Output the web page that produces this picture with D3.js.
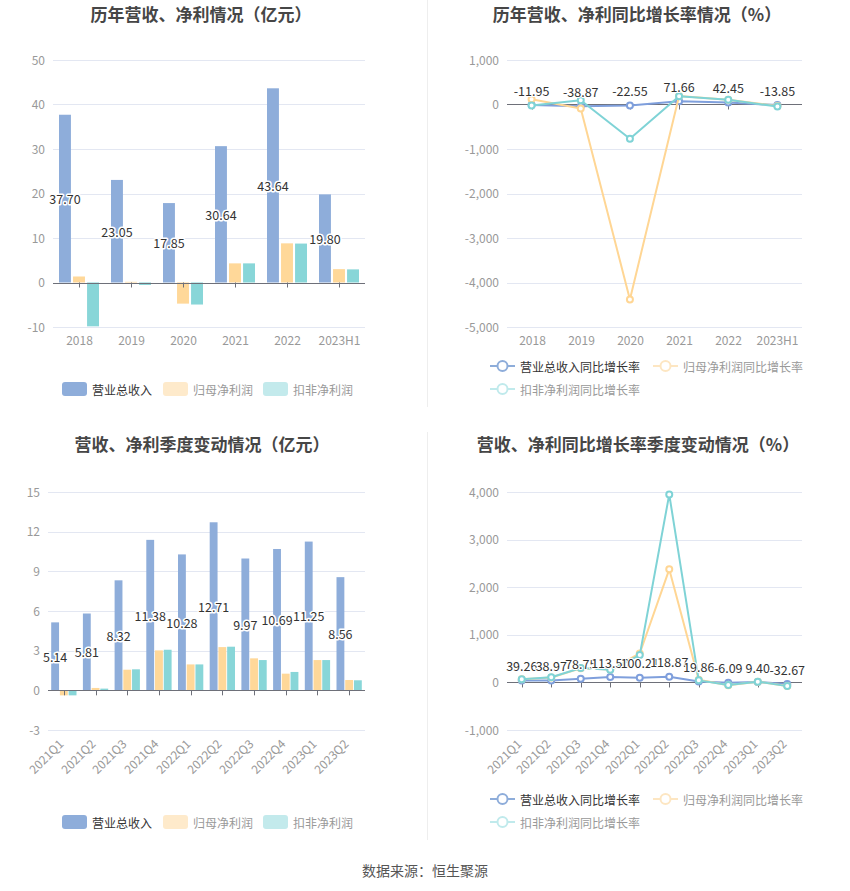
<!DOCTYPE html>
<html>
<head>
<meta charset="utf-8">
<script src="https://cdn.jsdelivr.net/npm/d3@7"></script>
<style>
html,body{margin:0;padding:0;background:#fff;}
svg{display:block;font-family:"Noto Sans CJK SC","Noto Sans",sans-serif;}
</style>
</head>
<body>
<svg id="c" width="850" height="891"></svg>
<script>
// ---------- data ----------
const years = ["2018","2019","2020","2021","2022","2023H1"];
const revenue = [37.70, 23.05, 17.85, 30.64, 43.64, 19.80];
const netProfit = [1.35, 0.15, -4.75, 4.3, 8.8, 3.0];
const deductedProfit = [-9.85, -0.55, -4.95, 4.3, 8.75, 2.95];

const revenueYoY = [-11.95, -38.87, -22.55, 71.66, 42.45, -13.85];
const netProfitYoY = [120, -90, -4380, 191, 105, -35];
const deductedYoY = [-20, 95, -770, 188, 108, -45];

const quarters = ["2021Q1","2021Q2","2021Q3","2021Q4","2022Q1","2022Q2","2022Q3","2022Q4","2023Q1","2023Q2"];
const revenueQ = [5.14, 5.81, 8.32, 11.38, 10.28, 12.71, 9.97, 10.69, 11.25, 8.56];
const netProfitQ = [-0.38, 0.18, 1.56, 3.02, 1.96, 3.27, 2.42, 1.26, 2.29, 0.78];
const deductedQ = [-0.38, 0.13, 1.59, 3.07, 1.96, 3.30, 2.29, 1.39, 2.29, 0.76];

const revenueQYoY = [39.26, 38.97, 78.75, 113.50, 100.21, 118.87, 19.86, -6.09, 9.40, -32.67];
const netProfitQYoY = [65, 105, 300, 270, 610, 2380, 55, -58, 17, -76];
const deductedQYoY = [70, 110, 305, 265, 575, 3955, 44, -55, 17, -77];

const ticksTL = [-10, 0, 10, 20, 30, 40, 50];
const ticksTR = [-5000, -4000, -3000, -2000, -1000, 0, 1000];
const ticksBL = [-3, 0, 3, 6, 9, 12, 15];
const ticksBR = [-1000, 0, 1000, 2000, 3000, 4000];

const barNames = ["营业总收入","归母净利润","扣非净利润"];
const lineNames = ["营业总收入同比增长率","归母净利润同比增长率","扣非净利润同比增长率"];
const titles = ["历年营收、净利情况（亿元）","历年营收、净利同比增长率情况（%）","营收、净利季度变动情况（亿元）","营收、净利同比增长率季度变动情况（%）"];
const sourceText = "数据来源：恒生聚源";

// ---------- style ----------
const barColors = ["#8eadda", "#ffd899", "#88d6d8"];
const lineColors = ["#7f9fdc", "#ffd694", "#7fd3d6"];
const legendBarColors = ["#8eadda", "#feeacb", "#c3eaec"];
const legendLineColors = ["#8eadda", "#fde6c2", "#c0eaec"];
const legendTextColors = ["#333", "#999", "#999"];
const gridColor = "#e3e7f2";
const axisColor = "#6e7079";
const labelColor = "#999";

const loc = d3.formatLocale({decimal: ".", thousands: ",", grouping: [3], currency: ["", ""], minus: "-"});
const fmtComma = loc.format(",");
const fmt2 = loc.format(".2f");

const svg = d3.select("#c");

// dividers
svg.append("line").attr("x1", 427.5).attr("x2", 427.5).attr("y1", 0).attr("y2", 407).attr("stroke", "#eeeeee");
svg.append("line").attr("x1", 427.5).attr("x2", 427.5).attr("y1", 432).attr("y2", 840).attr("stroke", "#eeeeee");

function title(txt, cx, cy) {
  svg.append("text").attr("x", cx).attr("y", cy).attr("text-anchor", "middle")
    .attr("dominant-baseline", "central").attr("font-size", 17).attr("font-weight", "bold")
    .attr("fill", "#464646").text(txt);
}
title(titles[0], 201, 13);
title(titles[1], 637, 13);
title(titles[2], 202, 443);
title(titles[3], 638, 443);

function yAxis(g, y, ticks, x0, x1, fmt) {
  ticks.forEach(t => {
    if (t !== 0) {
      g.append("line").attr("x1", x0).attr("x2", x1).attr("y1", Math.round(y(t)) + 0.5).attr("y2", Math.round(y(t)) + 0.5)
        .attr("stroke", gridColor);
    }
    g.append("text").attr("x", x0 - 8).attr("y", y(t) - 1).attr("text-anchor", "end")
      .attr("dominant-baseline", "central").attr("font-size", 12).attr("fill", labelColor).text(fmt(t));
  });
}

function xAxis(g, x, cats, y0, x0, x1, labelY, rotate) {
  g.append("line").attr("x1", x0).attr("x2", x1).attr("y1", Math.round(y0) + 0.5).attr("y2", Math.round(y0) + 0.5)
    .attr("stroke", axisColor);
  cats.forEach(c => {
    const cx = Math.round(x(c) + x.bandwidth() / 2) + 0.5;
    g.append("line").attr("x1", cx).attr("x2", cx).attr("y1", y0).attr("y2", y0 + 5).attr("stroke", axisColor);
    if (rotate) {
      g.append("text").attr("transform", `translate(${cx - 4},${labelY}) rotate(-45)`)
        .attr("text-anchor", "end").attr("dominant-baseline", "central")
        .attr("font-size", 12).attr("fill", labelColor).text(c);
    } else {
      g.append("text").attr("x", cx).attr("y", labelY).attr("text-anchor", "middle")
        .attr("dominant-baseline", "central").attr("font-size", 12).attr("fill", labelColor).text(c);
    }
  });
}

function barChart(cfg) {
  const g = svg.append("g");
  const x = d3.scaleBand().domain(cfg.cats).range([cfg.x0, cfg.x1]);
  const y = d3.scaleLinear().domain(cfg.domain).range([cfg.yb, cfg.yt]);
  const sub = d3.scaleBand().domain([0, 1, 2]).range(cfg.subRange).paddingInner(cfg.subPad);
  yAxis(g, y, cfg.ticks, cfg.x0, cfg.x1, d => String(d));
  const series = [cfg.s0, cfg.s1, cfg.s2];
  series.forEach((vals, si) => {
    g.selectAll(null).data(vals).enter().append("rect")
      .attr("x", (d, i) => x(cfg.cats[i]) + sub(si))
      .attr("width", sub.bandwidth())
      .attr("y", d => Math.min(y(d), y(0)))
      .attr("height", d => Math.abs(y(d) - y(0)))
      .attr("fill", barColors[si]);
  });
  xAxis(g, x, cfg.cats, y(0), cfg.x0, cfg.x1, cfg.labelY, cfg.rotate);
  g.selectAll(null).data(cfg.s0).enter().append("text")
    .attr("x", (d, i) => x(cfg.cats[i]) + sub(0) + sub.bandwidth() / 2)
    .attr("y", d => (y(d) + y(0)) / 2)
    .attr("text-anchor", "middle").attr("dominant-baseline", "central")
    .attr("font-size", 12.5).attr("fill", "#333")
    .attr("stroke", "#fff").attr("stroke-width", 3).attr("paint-order", "stroke")
    .attr("stroke-linejoin", "round")
    .text(d => fmt2(d));
}

function lineChart(cfg) {
  const g = svg.append("g");
  const x = d3.scaleBand().domain(cfg.cats).range([cfg.x0, cfg.x1]);
  const y = d3.scaleLinear().domain(cfg.domain).range([cfg.yb, cfg.yt]);
  yAxis(g, y, cfg.ticks, cfg.x0, cfg.x1, fmtComma);
  xAxis(g, x, cfg.cats, y(0), cfg.x0, cfg.x1, cfg.labelY, cfg.rotate);
  const cx = c => x(c) + x.bandwidth() / 2;
  const series = [cfg.s0, cfg.s1, cfg.s2];
  [0, 1, 2].forEach(si => {
    const vals = series[si];
    const line = d3.line().x((d, i) => cx(cfg.cats[i])).y(d => y(d));
    g.append("path").datum(vals).attr("d", line).attr("fill", "none")
      .attr("stroke", lineColors[si]).attr("stroke-width", 2).attr("stroke-linejoin", "round");
    g.selectAll(null).data(vals).enter().append("circle")
      .attr("cx", (d, i) => cx(cfg.cats[i])).attr("cy", d => y(d)).attr("r", 3)
      .attr("fill", "#fff").attr("stroke", lineColors[si]).attr("stroke-width", 2);
  });
  g.selectAll(null).data(cfg.s0).enter().append("text")
    .attr("x", (d, i) => cx(cfg.cats[i]))
    .attr("y", d => y(d) - 15)
    .attr("text-anchor", "middle").attr("dominant-baseline", "central")
    .attr("font-size", 12.5).attr("fill", "#333")
    .attr("stroke", "#fff").attr("stroke-width", 2).attr("paint-order", "stroke")
    .text(d => fmt2(d));
}

function barLegend(y) {
  const xs = [62, 163, 263];
  barNames.forEach((n, i) => {
    svg.append("rect").attr("x", xs[i]).attr("y", y - 7).attr("width", 25).attr("height", 14).attr("rx", 3)
      .attr("fill", legendBarColors[i]);
    svg.append("text").attr("x", xs[i] + 30).attr("y", y).attr("dominant-baseline", "central")
      .attr("font-size", 12).attr("fill", legendTextColors[i]).text(n);
  });
}
function lineLegend(y1, y2) {
  const pos = [[490, y1], [653, y1], [490, y2]];
  lineNames.forEach((n, i) => {
    const [lx, ly] = pos[i];
    svg.append("line").attr("x1", lx).attr("x2", lx + 25).attr("y1", ly).attr("y2", ly)
      .attr("stroke", legendLineColors[i]).attr("stroke-width", 2);
    svg.append("circle").attr("cx", lx + 12.5).attr("cy", ly).attr("r", 5)
      .attr("fill", "#fff").attr("stroke", legendLineColors[i]).attr("stroke-width", 2);
    svg.append("text").attr("x", lx + 30).attr("y", ly).attr("dominant-baseline", "central")
      .attr("font-size", 12).attr("fill", legendTextColors[i]).text(n);
  });
}

barChart({cats: years, s0: revenue, s1: netProfit, s2: deductedProfit,
  x0: 53, x1: 365, yt: 60, yb: 327, domain: [-10, 50], ticks: ticksTL,
  subRange: [6, 46], subPad: 0.15, labelY: 339, rotate: false});

lineChart({cats: years, s0: revenueYoY, s1: netProfitYoY, s2: deductedYoY,
  x0: 507, x1: 802, yt: 60, yb: 327, domain: [-5000, 1000], ticks: ticksTR,
  labelY: 339, rotate: false});

barChart({cats: quarters, s0: revenueQ, s1: netProfitQ, s2: deductedQ,
  x0: 48, x1: 365, yt: 492, yb: 730, domain: [-3, 15], ticks: ticksBL,
  subRange: [3.2, 28.5], subPad: 0.1, labelY: 741, rotate: true});

lineChart({cats: quarters, s0: revenueQYoY, s1: netProfitQYoY, s2: deductedQYoY,
  x0: 507, x1: 802, yt: 492.3, yb: 730, domain: [-1000, 4000], ticks: ticksBR,
  labelY: 741, rotate: true});

barLegend(389);
lineLegend(366, 389);
barLegend(822);
lineLegend(799, 822);

svg.append("text").attr("x", 425).attr("y", 870).attr("text-anchor", "middle")
  .attr("dominant-baseline", "central").attr("font-size", 14).attr("fill", "#555").text(sourceText);
</script>
</body>
</html>
